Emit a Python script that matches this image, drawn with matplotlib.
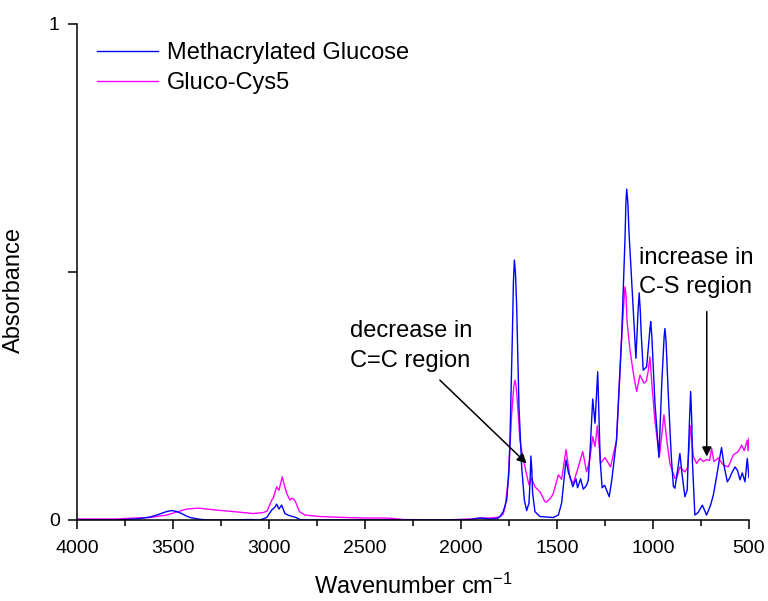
import matplotlib
matplotlib.use("Agg")
import matplotlib.pyplot as plt

plt.rcParams['font.family'] = ['Liberation Sans', 'DejaVu Sans']
plt.rcParams['mathtext.fontset'] = 'custom'
plt.rcParams['mathtext.rm'] = 'Liberation Sans'
plt.rcParams['mathtext.it'] = 'Liberation Sans:italic'
plt.rcParams['mathtext.bf'] = 'Liberation Sans:bold'

# ---- data ----
series_names = ["Methacrylated Glucose", "Gluco-Cys5"]

glucose_wn = [4000, 3800, 3700, 3672, 3620, 3585, 3533, 3507, 3480, 3455, 3430, 3411,
              3370, 3325, 3200, 3100, 3047, 3012, 2986, 2969, 2960, 2948, 2934, 2917,
              2895, 2877, 2859, 2839, 2800, 2500, 2300, 2100, 1950, 1900, 1850, 1810,
              1797, 1780, 1762, 1750, 1745, 1733, 1727, 1722, 1716, 1710, 1698, 1684, 1670,
              1658, 1646, 1640, 1636, 1631, 1627, 1615, 1589, 1550, 1519, 1493, 1476, 1453,
              1440, 1432, 1418, 1401, 1393, 1377, 1363, 1346, 1337, 1325, 1314, 1302, 1288,
              1275, 1265, 1252, 1228, 1215, 1190, 1164, 1146, 1141, 1137, 1131, 1125, 1113,
              1089, 1078, 1072, 1066, 1062, 1051, 1033, 1016, 1012, 1006, 990, 969, 955,
              942, 938, 932, 920, 905, 894, 886, 872, 860, 848, 834, 822, 810, 804, 798,
              795, 782, 765, 743, 721, 700, 686, 669, 655, 643, 630, 613, 600, 591, 573,
              560, 547, 535, 521, 509, 500]
glucose_abs = [0.000, 0.000, 0.002, 0.003, 0.006, 0.010, 0.017, 0.019, 0.017, 0.013, 0.008, 0.005,
               0.002, 0.000, 0.000, 0.001, 0.000, 0.005, 0.020, 0.026, 0.032, 0.022, 0.030, 0.013,
               0.009, 0.007, 0.005, 0.001, 0.000, 0.000, 0.000, 0.000, 0.001, 0.004, 0.002, 0.003,
               0.007, 0.017, 0.040, 0.100, 0.161, 0.363, 0.480, 0.524, 0.495, 0.430, 0.228, 0.107, 0.040,
               0.019, 0.034, 0.080, 0.129, 0.100, 0.054, 0.017, 0.007, 0.006, 0.005, 0.010, 0.034, 0.121,
               0.095, 0.087, 0.067, 0.083, 0.065, 0.083, 0.062, 0.070, 0.080, 0.160, 0.244, 0.195, 0.299,
               0.120, 0.065, 0.070, 0.047, 0.080, 0.161, 0.363, 0.565, 0.640, 0.667, 0.640, 0.580, 0.495,
               0.326, 0.420, 0.458, 0.420, 0.380, 0.302, 0.309, 0.385, 0.400, 0.370, 0.236, 0.126, 0.270,
               0.370, 0.386, 0.360, 0.250, 0.130, 0.068, 0.064, 0.100, 0.134, 0.090, 0.047, 0.060, 0.200,
               0.259, 0.200, 0.120, 0.010, 0.015, 0.030, 0.010, 0.030, 0.050, 0.087, 0.120, 0.146, 0.110,
               0.077, 0.085, 0.094, 0.107, 0.100, 0.081, 0.095, 0.077, 0.124, 0.085]

cys_wn = [4000, 3800, 3700, 3620, 3533, 3481, 3429, 3368, 3273, 3186, 3082, 3030, 3010,
          2986, 2978, 2960, 2948, 2931, 2920, 2908, 2891, 2882, 2870, 2860, 2842, 2813,
          2734, 2600, 2510, 2400, 2354, 2300, 2100, 1950, 1900, 1850, 1800, 1780, 1770,
          1754, 1736, 1725, 1719, 1713, 1707, 1693, 1679, 1658, 1646, 1632, 1615, 1589, 1563, 1554,
          1528, 1519, 1493, 1476, 1453, 1432, 1415, 1389, 1366, 1346, 1330, 1314, 1302,
          1290, 1273, 1260, 1250, 1221, 1190, 1164, 1150, 1146, 1141, 1135, 1120, 1100, 1085,
          1068, 1047, 1035, 1025, 1016, 1005, 990, 967, 943, 928, 912, 886, 877, 860,
          834, 820, 804, 790, 773, 755, 738, 720, 705, 695, 683, 660, 634, 608, 582,
          556, 538, 525, 509, 505, 500]
cys_abs = [0.002, 0.002, 0.004, 0.005, 0.010, 0.016, 0.022, 0.024, 0.020, 0.017, 0.013, 0.015, 0.018,
           0.040, 0.044, 0.067, 0.060, 0.087, 0.070, 0.054, 0.040, 0.044, 0.042, 0.035, 0.017, 0.010,
           0.007, 0.005, 0.004, 0.004, 0.003, 0.001, 0.000, 0.002, 0.004, 0.004, 0.006, 0.012, 0.027,
           0.081, 0.215, 0.270, 0.282, 0.270, 0.242, 0.161, 0.128, 0.091, 0.071, 0.084, 0.067, 0.057, 0.037, 0.036,
           0.047, 0.054, 0.091, 0.082, 0.142, 0.084, 0.074, 0.107, 0.138, 0.097, 0.120, 0.168, 0.148,
           0.190, 0.115, 0.121, 0.126, 0.107, 0.161, 0.363, 0.450, 0.470, 0.455, 0.400, 0.343, 0.290, 0.259,
           0.292, 0.276, 0.280, 0.300, 0.329, 0.270, 0.200, 0.128, 0.212, 0.160, 0.114, 0.084, 0.084, 0.107,
           0.097, 0.105, 0.190, 0.128, 0.114, 0.124, 0.118, 0.122, 0.120, 0.145, 0.118, 0.125, 0.111, 0.107, 0.131,
           0.138, 0.151, 0.140, 0.161, 0.140, 0.165]

x_ticks = [4000, 3500, 3000, 2500, 2000, 1500, 1000, 500]
x_minor_ticks = [3750, 3250, 2750, 2250, 1750, 1250, 750]
y_ticks = [0, 0.5, 1]
y_tick_labels = ["0", "", "1"]

# ---- figure ----
fig = plt.figure(figsize=(7.68, 6.01), dpi=100)
ax = fig.add_axes([77/768, 81/601, 672/768, 496/601])

l2, = ax.plot(cys_wn, cys_abs, color='#ff00ff', lw=1.0, label=series_names[1])
l1, = ax.plot(glucose_wn, glucose_abs, color='#0000ff', lw=1.0, label=series_names[0])

ax.set_xlim(4000, 500)
ax.set_ylim(0, 1)
ax.set_xticks(x_ticks)
ax.set_xticks(x_minor_ticks, minor=True)
ax.set_yticks(y_ticks)
ax.set_yticklabels(y_tick_labels)

for s in ['top', 'right']:
    ax.spines[s].set_visible(False)
for s in ['left', 'bottom']:
    ax.spines[s].set_linewidth(1.1)

ax.tick_params(axis='both', which='major', direction='out', length=6.5, width=1.1,
               labelsize=14)
ax.tick_params(axis='x', which='major', pad=8)
ax.tick_params(axis='y', which='major', pad=6)
ax.tick_params(axis='x', which='minor', direction='out', length=4, width=1.1)

ax.set_xlabel(r"Wavenumber cm$^{\mathregular{-1}}$", fontsize=17)
ax.xaxis.label.set_va('baseline')
ax.xaxis.set_label_coords(0.5, -0.148)
ax.set_ylabel("Absorbance", fontsize=17)
ax.yaxis.set_label_coords(-0.078, 0.464)

leg = ax.legend(handles=[l1, l2], loc='upper left',
                bbox_to_anchor=(97/768, 559/601), bbox_transform=fig.transFigure,
                frameon=False, fontsize=17, handlelength=2.6, handletextpad=0.35,
                labelspacing=0.36, borderpad=0, borderaxespad=0)

# annotations
ax.text(2578, 0.3696, "decrease in", fontsize=17, ha='left', va='baseline')
ax.text(2578, 0.309, "C=C region", fontsize=17, ha='left', va='baseline')
ax.annotate("", xy=(1658, 0.114), xytext=(2110, 0.282),
            arrowprops=dict(arrowstyle='-|>', color='black', lw=1.1, mutation_scale=14,
                            shrinkA=0, shrinkB=0))

ax.text(1073, 0.5155, "increase in", fontsize=17, ha='left', va='baseline')
ax.text(1073, 0.457, "C-S region", fontsize=17, ha='left', va='baseline')
ax.annotate("", xy=(720, 0.128), xytext=(720, 0.42),
            arrowprops=dict(arrowstyle='-|>', color='black', lw=1.1, mutation_scale=14,
                            shrinkA=0, shrinkB=0))

fig.savefig("out.png", dpi=100)
